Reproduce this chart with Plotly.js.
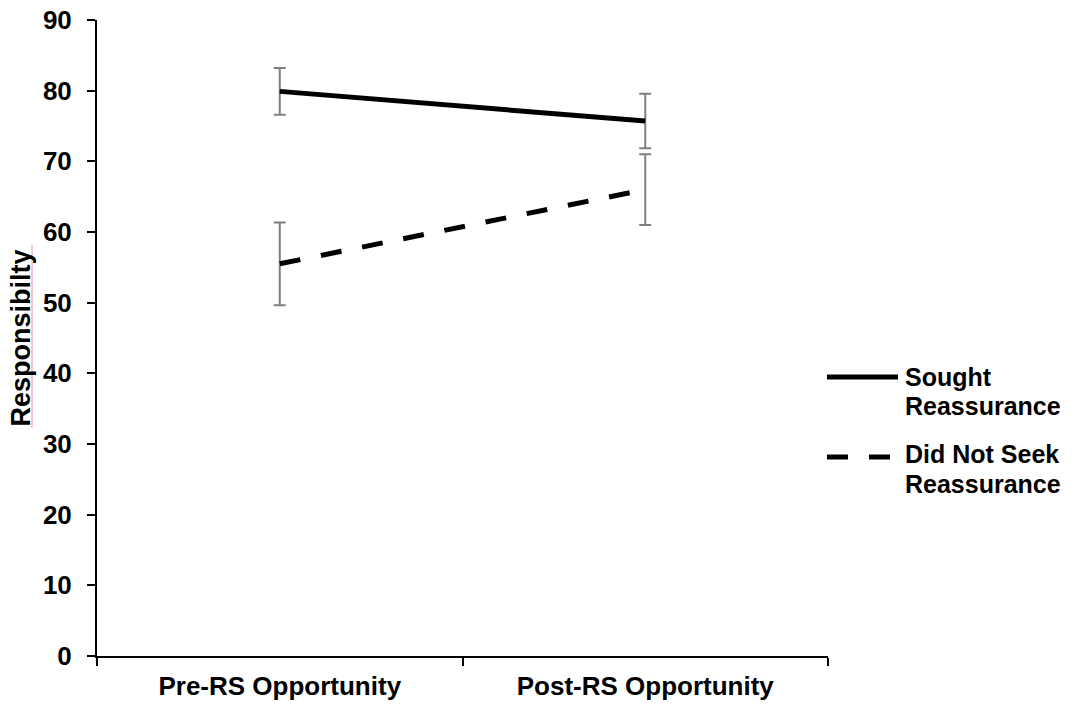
<!DOCTYPE html>
<html>
<head>
<meta charset="utf-8">
<script src="https://cdn.plot.ly/plotly-3.0.1.min.js"></script>
<style>
  html, body { margin: 0; padding: 0; background: #fff; }
  #chart { width: 1077px; height: 706px; }
</style>
</head>
<body>
<div id="chart"></div>
<script>
// Time points on the x axis
const phases = ['Pre-RS Opportunity', 'Post-RS Opportunity'];

// Mean responsibility ratings and their error margins
const soughtName = 'Sought<br>Reassurance';
const soughtMean = [79.9, 75.7];
const soughtErr = [3.3, 3.85];

const notSoughtName = 'Did Not Seek<br>Reassurance';
const notSoughtMean = [55.5, 66.0];
const notSoughtErr = [5.85, 5.0];

const yTicks = [0, 10, 20, 30, 40, 50, 60, 70, 80, 90];
const yTitle = 'Responsibilty';

const FONT = 'Liberation Sans, Arial, sans-serif';
const errStyle = { type: 'data', visible: true, color: '#7f7f7f', thickness: 2, width: 6 };

const traces = [
  {
    x: phases, y: soughtMean, name: soughtName, type: 'scatter', mode: 'lines',
    line: { color: '#000', width: 5 },
    error_y: Object.assign({ array: soughtErr }, errStyle),
    showlegend: false
  },
  {
    x: phases, y: notSoughtMean, name: notSoughtName, type: 'scatter', mode: 'lines',
    line: { color: '#000', width: 5, dash: '21px,21px' },
    error_y: Object.assign({ array: notSoughtErr }, errStyle),
    showlegend: false
  }
];

// Hand-placed legend: long line samples beside two-line labels
const legendItems = [
  { name: soughtName, dash: 'solid', y: 0.4387, lines: [0.4379, 0.3923] },
  { name: notSoughtName, dash: '21px,21px', y: 0.3129, lines: [0.3176, 0.2704] }
];
const shapes = legendItems.map(it => ({
  type: 'line', xref: 'paper', yref: 'paper',
  x0: 0.9986, x1: 1.0958, y0: it.y, y1: it.y,
  line: { color: '#000', width: 5, dash: it.dash }
}));
// spell-check underline beside the axis title
shapes.push({
  type: 'line', xref: 'paper', yref: 'paper',
  x0: -0.0889, x1: -0.0889, y0: (656 - 245) / 636, y1: (656 - 428) / 636,
  line: { color: '#f2b8bf', width: 1.5 }
});

const annotations = [];
legendItems.forEach(it => {
  it.name.split('<br>').forEach((part, i) => {
    annotations.push({
      xref: 'paper', yref: 'paper', x: 1.1026, y: it.lines[i],
      xanchor: 'left', yanchor: 'middle', align: 'left', showarrow: false,
      text: '<b>' + part + '</b>',
      font: { family: FONT, size: 25, color: '#000' }
    });
  });
});

const layout = {
  width: 1077, height: 706,
  margin: { l: 97, r: 249, t: 20, b: 50, pad: 0 },
  paper_bgcolor: '#fff', plot_bgcolor: '#fff',
  font: { family: FONT, size: 26, color: '#000' },
  showlegend: false,
  xaxis: {
    type: 'category', range: [-0.5, 1.5], tickson: 'boundaries',
    showline: true, linecolor: '#000', linewidth: 2,
    ticks: 'outside', ticklen: 8, tickwidth: 2, tickcolor: '#000',
    showgrid: false, zeroline: false,
    tickfont: { family: FONT, size: 26, color: '#000', weight: 'bold' },
    ticklabelstandoff: 6
  },
  yaxis: {
    range: [0, 90], tickvals: yTicks, ticktext: yTicks.map(String),
    showline: true, linecolor: '#000', linewidth: 2,
    ticks: 'outside', ticklen: 8, tickwidth: 2, tickcolor: '#000',
    showgrid: false, zeroline: false,
    tickfont: { family: FONT, size: 26, color: '#000', weight: 'bold' },
    ticklabelstandoff: 10,
    title: { text: '<b>' + yTitle + '</b>', standoff: 4,
             font: { family: FONT, size: 27, color: '#000' } }
  },
  shapes: shapes,
  annotations: annotations
};

Plotly.newPlot('chart', traces, layout, { displayModeBar: false, staticPlot: true });
</script>
</body>
</html>
